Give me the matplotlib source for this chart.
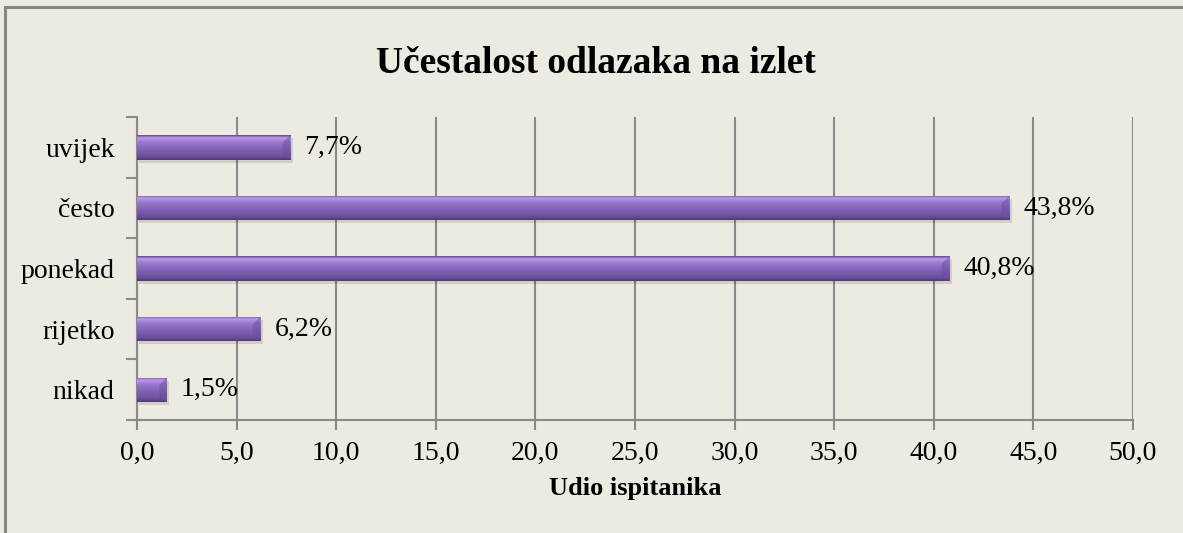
import numpy as np
import matplotlib.pyplot as plt
from matplotlib.colors import LinearSegmentedColormap
from matplotlib.patches import Rectangle

categories = ['uvijek', 'često', 'ponekad', 'rijetko', 'nikad']
values = [7.7, 43.8, 40.8, 6.2, 1.5]
xticks = [0, 5, 10, 15, 20, 25, 30, 35, 40, 45, 50]

plt.rcParams['font.family'] = ['Liberation Serif', 'DejaVu Serif']

bg = '#EDEBE1'
grid_col = '#8A8A8A'

fig = plt.figure(figsize=(11.83, 5.33), dpi=100, facecolor=bg)
ax = fig.add_axes([0.1158, 0.212, 0.8419, 0.5683])
ax.set_facecolor(bg)

# outer chart border (only top and left visible in the crop)
fig.patches.append(Rectangle((5 / 1183, -0.1), 1.2, 1 - 7 / 533 + 0.1, transform=fig.transFigure,
                             fill=False, edgecolor='#868686', linewidth=2.2))

ypos = np.arange(len(categories))
bars = ax.barh(ypos, values, height=0.4, color='none', edgecolor='none', zorder=3)

# bar gradient: dark edge, light highlight near top, darker bottom
cmap = LinearSegmentedColormap.from_list('purp', [
    (0.0, '#5E4585'), (0.1, '#BC9CEC'), (0.28, '#9A79CE'),
    (0.6, '#7F5EB4'), (0.88, '#6A4E99'), (1.0, '#4F3A70')])
grad = np.linspace(0, 1, 64).reshape(-1, 1)
for b in bars:
    x0, y0 = b.get_x(), b.get_y()
    w, h = b.get_width(), b.get_height()
    # soft shadow
    ax.add_patch(Rectangle((x0 + 0.12, y0 + 0.05), w, h, facecolor='#000000', alpha=0.12,
                           edgecolor='none', zorder=2))
    im = ax.imshow(grad, extent=[x0, x0 + w, y0 + h, y0], cmap=cmap, aspect='auto',
                   zorder=3, interpolation='bicubic')
    im.set_clip_path(b)
    # bevel at right end
    bev = min(0.4, w * 0.25)
    ax.fill([x0 + w - bev, x0 + w, x0 + w, x0 + w - bev],
            [y0 + h * 0.3, y0, y0 + h, y0 + h * 0.85],
            color='#6C4F9C', alpha=0.5, zorder=4, linewidth=0)

ax.set_xlim(0, 50)
ax.set_ylim(4.5, -0.5)

ax.set_xticks(xticks)
ax.set_xticklabels([f'{v:.1f}'.replace('.', ',') for v in xticks], fontsize=20)
ax.set_yticks(ypos)
ax.set_yticklabels(categories, fontsize=20)
ax.set_yticks(np.arange(-0.5, len(categories)), minor=True)
ax.tick_params(axis='y', which='major', length=0, pad=16)
ax.tick_params(axis='y', which='minor', length=8, width=1.5, color=grid_col, direction='out')
ax.tick_params(axis='x', which='major', length=7, width=1.5, color=grid_col, pad=8)

ax.xaxis.grid(True, color=grid_col, linewidth=1.5, zorder=1)
ax.set_axisbelow(True)
for side in ['top', 'right']:
    ax.spines[side].set_visible(False)
for side in ['left', 'bottom']:
    ax.spines[side].set_color(grid_col)
    ax.spines[side].set_linewidth(1.5)

for b, v in zip(bars, values):
    ax.text(v + 0.7, b.get_y() + b.get_height() / 2, f'{v:.1f}%'.replace('.', ','),
            va='center', ha='left', fontsize=20, zorder=5)

ax.set_xlabel('Udio ispitanika', fontsize=19, fontweight='bold', labelpad=8)
fig.text(0.504, 1 - 73 / 533, 'Učestalost odlazaka na izlet', ha='center', va='baseline',
         fontsize=27, fontweight='bold')

fig.savefig('out.png', dpi=100, facecolor=bg)
